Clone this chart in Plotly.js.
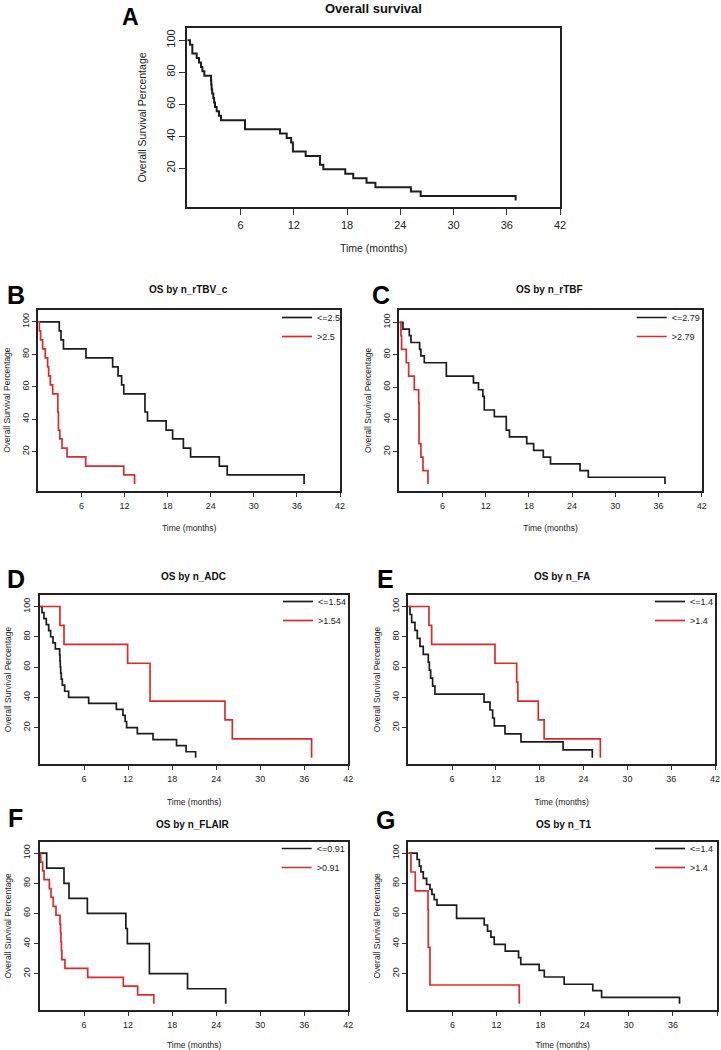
<!DOCTYPE html>
<html>
<head>
<meta charset="utf-8">
<script src="https://cdn.plot.ly/plotly-3.0.1.min.js"></script>
<style>
  html, body { margin: 0; padding: 0; background: #fff; }
  #plot { width: 721px; height: 1050px; }
</style>
</head>
<body>
<div id="plot"></div>
<script>
// axis ticks
const xTicks = [6, 12, 18, 24, 30, 36, 42];
const yTicks = [20, 40, 60, 80, 100];

// A: overall survival (months, % surviving)
const timeAll = [0, 0.3, 0.57, 1.06, 1.32, 1.54, 1.70, 1.92, 2.67, 2.70, 2.74, 2.80, 2.93, 3.02, 3.12, 3.31, 3.57, 3.80, 6.5, 10.45, 11.2, 11.7, 11.9, 13.34, 14.95, 15.33, 17.8, 18.7, 20.2, 21.2, 25.2, 26.3, 37.0];
const survAll = [100, 97.2, 91.7, 88.9, 86.1, 83.3, 80.6, 77.8, 75, 72.2, 69.4, 66.7, 63.9, 61.1, 58.3, 55.6, 52.8, 50, 44.4, 41.7, 38.9, 36.1, 30.6, 27.8, 22.2, 19.4, 16.7, 13.9, 11.1, 8.3, 5.6, 2.8, 0];

// B: n_rTBV_c
const timeBLo = [0, 2.92, 3.16, 3.5, 6.64, 10.35, 11.1, 11.6, 11.9, 14.85, 15.2, 17.8, 18.7, 20.2, 21.2, 25.2, 26.3, 37.0];
const survBLo = [100, 94.4, 88.9, 83.3, 77.8, 72.2, 66.7, 61.1, 55.6, 44.4, 38.9, 33.3, 27.8, 22.2, 16.7, 11.1, 5.6, 0];
const timeBHi = [0, 0.14, 0.32, 0.6, 0.97, 1.3, 1.44, 1.67, 2.0, 2.72, 2.8, 3.0, 3.3, 4.0, 6.6, 11.9, 13.4];
const survBHi = [100, 94.4, 88.9, 83.3, 77.8, 72.2, 66.7, 61.1, 55.6, 44.4, 33.3, 27.8, 22.2, 16.7, 11.1, 5.6, 0];

// C: n_rTBF
const timeCLo = [0, 0.51, 1.39, 1.62, 2.82, 3.0, 3.47, 6.53, 10.3, 11.0, 11.6, 11.8, 13.2, 14.86, 15.3, 17.7, 18.66, 20.0, 21.0, 25.1, 26.25, 36.9];
const survCLo = [100, 95.8, 91.7, 87.5, 83.3, 79.2, 75, 66.7, 62.5, 58.3, 54.2, 45.8, 41.7, 33.3, 29.2, 25, 20.8, 16.7, 12.5, 8.3, 4.2, 0];
const timeCHi = [0, 0.23, 0.32, 0.97, 1.3, 2.08, 2.69, 2.74, 3.0, 3.29, 3.98];
const survCHi = [100, 91.7, 83.3, 75, 66.7, 58.3, 50, 25, 16.7, 8.3, 0];

// D: n_ADC
const timeDLo = [0, 0.27, 0.54, 0.86, 1.18, 1.45, 1.77, 2.09, 2.68, 2.72, 2.76, 2.82, 2.9, 3.04, 3.36, 3.9, 6.63, 10.4, 11.3, 11.6, 11.8, 13.26, 15.4, 18.6, 19.9, 21.2];
const survDLo = [100, 96, 92, 88, 84, 80, 76, 72, 68, 64, 60, 56, 52, 48, 44, 40, 36, 32, 28, 24, 20, 16, 12, 8, 4, 0];
const timeDHi = [0, 2.72, 3.27, 11.94, 14.99, 25.2, 26.2, 37.0];
const survDHi = [100, 87.5, 75, 62.5, 37.5, 25, 12.5, 0];

// E: n_FA
const timeELo = [0, 0.23, 0.46, 0.91, 1.23, 1.6, 2.05, 2.74, 2.88, 3.06, 3.33, 3.65, 10.37, 11.19, 11.55, 11.78, 13.24, 15.43, 21.2, 25.2];
const survELo = [100, 94.7, 89.5, 84.2, 78.9, 73.7, 68.4, 63.2, 57.9, 52.6, 47.4, 42.1, 36.8, 31.6, 26.3, 21.1, 15.8, 10.5, 5.3, 0];
const timeEHi = [0, 2.83, 3.2, 11.87, 14.84, 15.0, 17.8, 18.6, 26.3];
const survEHi = [100, 87.5, 75, 62.5, 50, 37.5, 25, 12.5, 0];

// F: n_FLAIR
const timeFLo = [0, 0.91, 3.27, 3.95, 6.45, 11.7, 11.9, 14.9, 20.1, 25.3];
const survFLo = [100, 90, 80, 70, 60, 50, 40, 20, 10, 0];
const timeFHi = [0, 0.1, 0.36, 0.55, 1.27, 1.5, 1.8, 2.18, 2.72, 2.8, 2.86, 2.92, 2.98, 3.4, 6.5, 11.35, 13.3, 15.5];
const survFHi = [100, 94.1, 88.2, 82.4, 76.5, 70.6, 64.7, 58.8, 52.9, 47.1, 41.2, 35.3, 29.4, 23.5, 17.6, 11.8, 5.9, 0];

// G: n_T1
const timeGLo = [0, 1.2, 1.5, 1.72, 2.04, 2.49, 2.95, 3.22, 3.53, 3.9, 6.57, 10.33, 10.78, 11.24, 11.69, 13.19, 15.0, 15.3, 17.8, 18.5, 21.2, 25.1, 26.3, 36.9];
const survGLo = [100, 95.8, 91.4, 87.6, 83.2, 79.2, 75.9, 72.6, 69.2, 65.5, 56.7, 52.3, 48.3, 44.3, 39.4, 35, 30.6, 26.2, 22.2, 17.8, 13, 8.7, 4.3, 0];
const timeGHi = [0, 0.36, 0.95, 2.68, 2.72, 2.95, 15.1];
const survGHi = [100, 87.5, 75, 62.5, 37.5, 12.5, 0];

const W = 721, H = 1050;
const fx = x => x / W;
const fy = y => 1 - y / H;
const FONT = 'Liberation Sans, Arial, sans-serif';
const BLACK = '#1c1c1c', RED = '#e02a2a';

// plot boxes in pixels: left, right, top, bottom
const panels = [
  { key: 'A', title: 'Overall survival', box: [187.3, 560, 28, 207], letter: [130, 2], head: [373, 8], big: true },
  { key: 'B', title: 'OS by n_rTBV_c', box: [38.3, 340, 309.5, 490.7], letter: [16, 295.5], head: [188.5, 289.5], legend: [277, 303], labels: ['<=2.5', '>2.5'] },
  { key: 'C', title: 'OS by n_rTBF', box: [399.3, 701.7, 310, 490.7], letter: [380.5, 295], head: [549, 289.5], legend: [631.7, 303], labels: ['<=2.79', '>2.79'] },
  { key: 'D', title: 'OS by n_ADC', box: [40, 348.3, 595, 764], letter: [16, 579], head: [193.3, 576], legend: [278, 587], labels: ['<=1.54', '>1.54'] },
  { key: 'E', title: 'OS by n_FA', box: [408.3, 715, 595, 764], letter: [385, 579], head: [561.7, 576], legend: [650, 587], labels: ['<=1.4', '>1.4'] },
  { key: 'F', title: 'OS by n_FLAIR', box: [40, 348.3, 841.7, 1010], letter: [15.5, 818], head: [193, 824.5], legend: [276.7, 834], labels: ['<=0.91', '>0.91'] },
  { key: 'G', title: 'OS by n_T1', box: [408.3, 717, 841.7, 1010], letter: [385.5, 820], head: [563.3, 824], legend: [650, 834], labels: ['<=1.4', '>1.4'] }
];

const series = {
  A: [[timeAll, survAll]],
  B: [[timeBLo, survBLo], [timeBHi, survBHi]],
  C: [[timeCLo, survCLo], [timeCHi, survCHi]],
  D: [[timeDLo, survDLo], [timeDHi, survDHi]],
  E: [[timeELo, survELo], [timeEHi, survEHi]],
  F: [[timeFLo, survFLo], [timeFHi, survFHi]],
  G: [[timeGLo, survGLo], [timeGHi, survGHi]]
};

const data = [];
const layout = {
  width: W, height: H,
  margin: { l: 0, r: 0, t: 0, b: 0 },
  paper_bgcolor: '#fff', plot_bgcolor: '#fff',
  font: { family: FONT, color: '#222' },
  annotations: [],
  showlegend: true
};

panels.forEach((p, i) => {
  const n = i + 1;
  const sx = n === 1 ? '' : String(n);
  const [l, r, t, b] = p.box;
  const tickSize = p.big ? 11 : 9;
  const labSize = p.big ? 10.5 : 8.5;
  // legend ids: B -> legend, C -> legend2, ...
  const lk = n === 2 ? 'legend' : 'legend' + (n - 1);

  layout['xaxis' + sx] = {
    domain: [fx(l), fx(r)], anchor: 'y' + sx,
    range: [0, 42], tickvals: xTicks,
    ticks: 'outside', ticklen: p.big ? 6 : 4, tickcolor: '#333',
    ticklabelstandoff: 1,
    showline: true, mirror: true, linecolor: '#222', linewidth: 2,
    showgrid: false, zeroline: false,
    tickfont: { size: tickSize, color: '#222' },
    title: { text: 'Time (months)', font: { size: labSize }, standoff: p.big ? 14 : 16 }
  };
  layout['yaxis' + sx] = {
    domain: [fy(b), fy(t)], anchor: 'x' + sx,
    range: [-4.1, 107.6], tickvals: yTicks, tickangle: -90,
    ticks: 'outside', ticklen: p.big ? 6 : 4, tickcolor: '#333',
    showline: true, mirror: true, linecolor: '#222', linewidth: 2,
    showgrid: false, zeroline: false,
    tickfont: { size: tickSize, color: '#222' },
    title: { text: 'Overall Survival Percentage', font: { size: labSize }, standoff: p.big ? 16 : 9 }
  };

  series[p.key].forEach((s, j) => {
    const tr = {
      type: 'scatter', mode: 'lines',
      x: s[0], y: s[1],
      xaxis: 'x' + sx, yaxis: 'y' + sx,
      line: { shape: 'hv', color: j === 0 ? BLACK : RED, width: p.big ? 2 : 1.7 },
      hoverinfo: 'skip'
    };
    if (p.labels) {
      tr.name = p.labels[j];
      tr.legend = lk;
    } else {
      tr.showlegend = false;
    }
    data.push(tr);
  });

  if (p.legend) {
    layout[lk] = {
      x: fx(p.legend[0]), y: fy(p.legend[1]),
      xanchor: 'left', yanchor: 'top',
      bgcolor: 'rgba(0,0,0,0)', borderwidth: 0,
      font: { size: 9, color: '#222' },
      tracegroupgap: 0, itemwidth: 30
    };
  }

  // panel letter; A sits at the very top edge so anchor it by its top
  layout.annotations.push({
    xref: 'paper', yref: 'paper', x: fx(p.letter[0]), y: fy(p.letter[1]),
    xanchor: 'center', yanchor: p.key === 'A' ? 'top' : 'middle', showarrow: false,
    text: '<b>' + p.key + '</b>', font: { size: p.key === 'A' ? 23 : 25, color: '#000' }
  });
  layout.annotations.push({
    xref: 'paper', yref: 'paper', x: fx(p.head[0]), y: fy(p.head[1]),
    xanchor: 'center', yanchor: 'middle', showarrow: false,
    text: '<b>' + p.title + '</b>', font: { size: p.big ? 13 : 10, color: '#111' }
  });
});

Plotly.newPlot('plot', data, layout, { staticPlot: true });
</script>
</body>
</html>
